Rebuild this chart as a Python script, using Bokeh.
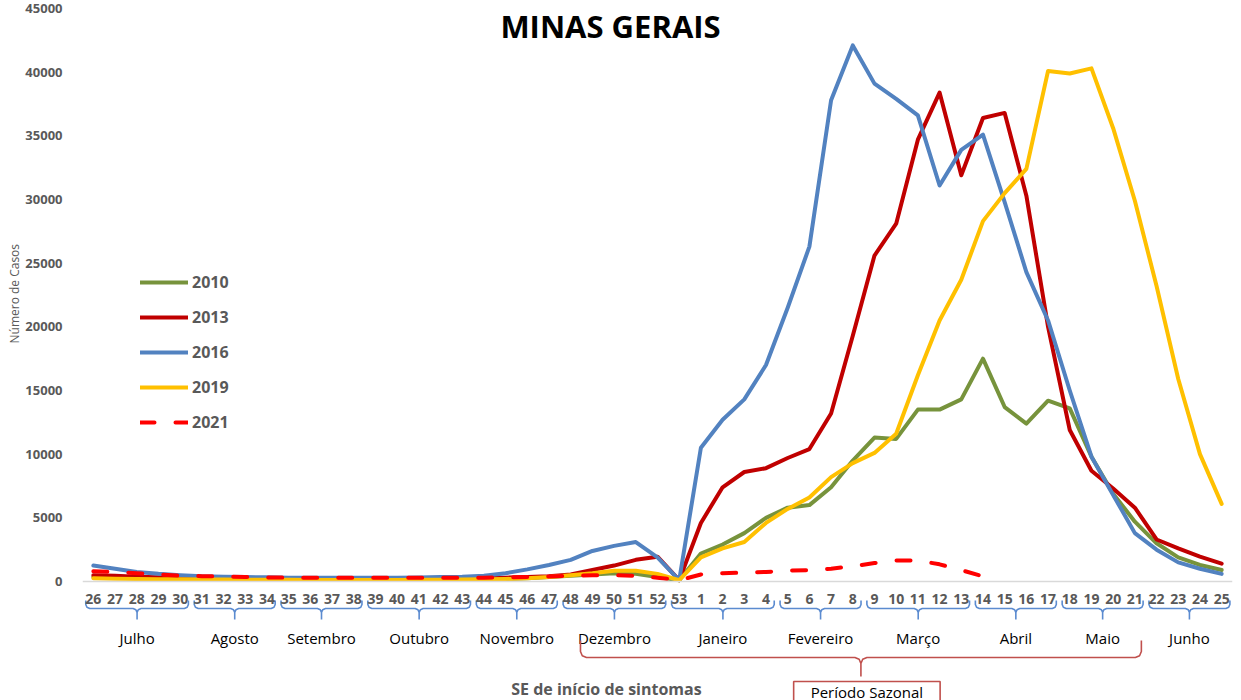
from bokeh.plotting import figure
from bokeh.models import Range1d, FactorRange, FixedTicker, Label, Title
from bokeh.core.properties import value
from bokeh.embed import file_html
from bokeh.resources import INLINE

# ---------------- data ----------------
weeks = ["26", "27", "28", "29", "30", "31", "32", "33", "34", "35", "36", "37", "38",
         "39", "40", "41", "42", "43", "44", "45", "46", "47", "48", "49", "50", "51",
         "52", "53", "1", "2", "3", "4", "5", "6", "7", "8", "9", "10", "11", "12", "13",
         "14", "15", "16", "17", "18", "19", "20", "21", "22", "23", "24", "25"]

cases_2010 = [350, 300, 250, 220, 200, 180, 170, 160, 150, 150, 140, 140, 140,
              140, 140, 150, 150, 160, 180, 200, 250, 350, 450, 550, 650, 600,
              350, 100, 2200, 2900, 3800, 5000, 5800, 6000, 7400, 9500, 11300, 11200, 13500, 13500, 14300,
              17500, 13700, 12400, 14200, 13600, 9800, 6900, 4700, 3000, 1900, 1300, 900]

cases_2013 = [500, 450, 380, 330, 300, 280, 260, 250, 240, 230, 220, 220, 220,
              220, 220, 230, 240, 250, 270, 300, 350, 420, 550, 900, 1250, 1700,
              1950, 100, 4600, 7400, 8600, 8900, 9700, 10400, 13200, 19300, 25600, 28100, 34700, 38400, 31900,
              36400, 36800, 30300, 20000, 11900, 8700, 7300, 5800, 3300, 2600, 1950, 1400]

cases_2016 = [1250, 1000, 750, 600, 500, 420, 380, 350, 330, 300, 300, 300, 300,
              300, 300, 320, 350, 380, 450, 650, 950, 1300, 1700, 2400, 2800, 3100,
              1900, 100, 10500, 12700, 14300, 17000, 21500, 26300, 37800, 42100, 39100, 37900, 36600, 31100, 33900,
              35100, 29800, 24300, 20500, 15000, 9800, 6800, 3800, 2500, 1500, 1000, 600]

cases_2019 = [250, 220, 200, 180, 170, 160, 150, 140, 130, 130, 120, 120, 120,
              120, 120, 130, 140, 150, 170, 200, 250, 350, 500, 650, 850, 850,
              600, 100, 1900, 2600, 3100, 4600, 5700, 6600, 8200, 9300, 10100, 11600, 16200, 20500, 23700,
              28300, 30500, 32400, 40100, 39900, 40300, 35600, 29900, 23200, 15900, 10000, 6100]

cases_2021 = [800, 750, 650, 550, 450, 420, 400, 350, 320, 300, 300, 300, 300,
              300, 300, 300, 300, 300, 300, 320, 350, 400, 450, 500, 500, 450,
              300, 100, 550, 650, 700, 750, 850, 900, 1000, 1200, 1450, 1650, 1650, 1350, 900,
              400]

y_ticks = [0, 5000, 10000, 15000, 20000, 25000, 30000, 35000, 40000, 45000]

months = ["Julho", "Agosto", "Setembro", "Outubro", "Novembro", "Dezembro",
          "Janeiro", "Fevereiro", "Março", "Abril", "Maio", "Junho"]
month_first = ["26", "31", "35", "39", "44", "48", "53", "5", "9", "14", "18", "22"]
month_last = ["30", "34", "38", "43", "47", "52", "4", "8", "13", "17", "21", "25"]

season_first, season_last = "48", "21"
season_label = "Período Sazonal"
title_text = "MINAS GERAIS"
x_title = "SE de início de sintomas"
y_title = "Número de Casos"

series = [("2010", cases_2010, "#77933c", None),
          ("2013", cases_2013, "#c00000", None),
          ("2016", cases_2016, "#5282c0", None),
          ("2019", cases_2019, "#ffc000", None),
          ("2021", cases_2021, "#ff0000", "14 21")]

# ---------------- layout (canvas pixels) ----------------
W, H = 1240, 700
FRAME_L, FRAME_R, FRAME_T, FRAME_B = 82, 1232, 8, 700
ZERO = 581
YMAX = 45000
K = YMAX / (ZERO - FRAME_T)
PXU = (FRAME_R - FRAME_L) / len(weeks)


def dy(s):
    return (ZERO - s) * K


def dx(s):
    return (s - FRAME_L) / PXU


FONT = value("Open Sans")
GREY = "#595959"

p = figure(width=W, height=H, output_backend="svg", toolbar_location=None,
           x_range=FactorRange(factors=weeks, range_padding=0),
           y_range=Range1d(-(FRAME_B - ZERO) * K, YMAX),
           min_border_left=FRAME_L, min_border_right=W - FRAME_R,
           min_border_top=FRAME_T, min_border_bottom=H - FRAME_B)
p.outline_line_color = None
p.xgrid.visible = False
p.ygrid.visible = False
p.background_fill_color = "white"
p.border_fill_color = "white"

# y axis
p.yaxis.ticker = FixedTicker(ticks=y_ticks)
p.yaxis.axis_line_color = None
p.yaxis.major_tick_line_color = None
p.yaxis.minor_tick_line_color = None
p.yaxis.major_label_standoff = 14
p.yaxis.major_label_text_font = "Open Sans"
p.yaxis.major_label_text_font_style = "bold"
p.yaxis.major_label_text_font_size = "13px"
p.yaxis.major_label_text_color = GREY

# y axis title, placed along the left side
p.add_layout(Title(text=y_title, align="left", offset=FRAME_B - 343, standoff=0,
                   text_font="Open Sans", text_font_size="12px",
                   text_font_style="normal", text_color=GREY), "left")

# x axis drawn at y = 0 inside the frame
p.xaxis.fixed_location = 0
p.xaxis.axis_line_color = "#d9d9d9"
p.xaxis.axis_line_width = 1.5
p.xaxis.major_tick_line_color = None
p.xaxis.minor_tick_line_color = None
p.xaxis.major_label_standoff = 6
p.xaxis.major_label_text_font = "Open Sans"
p.xaxis.major_label_text_font_style = "bold"
p.xaxis.major_label_text_font_size = "14px"
p.xaxis.major_label_text_color = GREY

# series
for name, vals, color, dash in series:
    kw = dict(line_dash=dash) if dash else {}
    p.line(x=weeks[:len(vals)], y=vals, line_color=color, line_width=4,
           line_join="round", line_cap="round", legend_label=name, **kw)


# braces
def brace(xl, xr, top, mid, tip, r):
    xc = (xl + xr) / 2
    q = r / PXU
    xs = [xl, xl, xl + 0.3 * q, xl + q, xc - q, xc - 0.3 * q, xc, xc,
          xc, xc + 0.3 * q, xc + q, xr - q, xr - 0.3 * q, xr, xr]
    ys = [top, mid - r, mid - 0.3 * r, mid, mid, mid + 0.3 * r, mid + r, tip,
          mid + r, mid + 0.3 * r, mid, mid, mid - 0.3 * r, mid - r, top]
    return xs, ys, xc


bx, by, mx = [], [], []
for f, l in zip(month_first, month_last):
    a = weeks.index(f)
    b = weeks.index(l)
    xs, ys, xc = brace(a + 0.15, b + 1 - 0.12, 600, 608, 619, 4)
    bx.append(xs)
    by.append([dy(v) for v in ys])
    mx.append(xc)

p.multi_line(xs=bx, ys=by, line_color="#5b8bd0", line_width=1.6)
p.text(x=mx, y=[dy(637)] * len(months), text=months, text_font=FONT,
       text_font_size="15px", text_align="center", text_baseline="middle",
       text_color="#000000")

# seasonal brace
sxs, sys_, sxc = brace(weeks.index(season_first) + 0.95, weeks.index(season_last) + 0.8,
                       640, 657, 676, 6)
p.line(x=sxs, y=[dy(v) for v in sys_], line_color="#c0504d", line_width=1.6)

box_l, box_r = sxc - 3.1, sxc + 3.65
p.quad(left=[box_l], right=[box_r], top=[dy(681)], bottom=[dy(730)],
       fill_color="white", line_color="#c0504d", line_width=1.6)
p.text(x=[(box_l + box_r) / 2], y=[dy(691)], text=[season_label], text_font=FONT,
       text_font_size="15px", text_align="center", text_baseline="middle",
       text_color="#000000")

# x axis title
p.text(x=[dx(606)], y=[dy(688)], text=[x_title], text_font=FONT,
       text_font_size="16px", text_font_style="bold", text_align="center",
       text_baseline="middle", text_color=GREY)

# chart title
p.add_layout(Label(x=dx(610), y=dy(25), text=title_text, text_font="Open Sans",
                   text_font_size="31px", text_font_style="bold", text_color="#000000",
                   text_align="center", text_baseline="middle"))

# legend
lg = p.legend[0]
lg.location = (140 - FRAME_L, FRAME_B - 433)
lg.padding = 0
lg.margin = 0
lg.spacing = 13
lg.glyph_width = 48
lg.glyph_height = 20
lg.label_height = 20
lg.label_standoff = 4
lg.border_line_alpha = 0
lg.background_fill_alpha = 0
lg.label_text_font = "Open Sans"
lg.label_text_font_style = "bold"
lg.label_text_font_size = "16px"
lg.label_text_color = GREY

open("out.html", "w").write(file_html(p, INLINE))
